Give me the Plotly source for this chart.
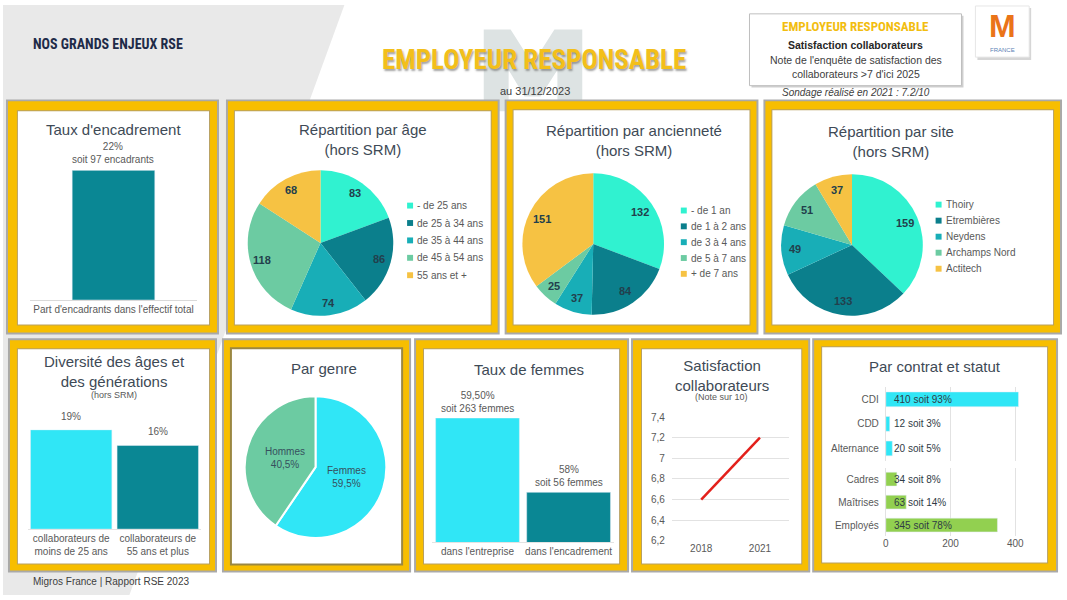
import math
import plotly.graph_objects as go

W, H = 1067, 600
def X(px): return px / W
def Y(py): return 1 - py / H

# ---------------- data ----------------
enc_cat = ["Part d'encadrants dans l'effectif total"]
enc_val = [22]
enc_lbl = ["22%<br>soit 97 encadrants"]

age_labels = ["- de 25 ans", "de 25 à 34 ans", "de 35 à 44 ans", "de 45 à 54 ans", "55 ans et +"]
age_values = [83, 86, 74, 118, 68]

anc_labels = ["- de 1 an", "de 1 à 2 ans", "de 3 à 4 ans", "de 5 à 7 ans", "+ de 7 ans"]
anc_values = [132, 84, 37, 25, 151]

site_labels = ["Thoiry", "Etrembières", "Neydens", "Archamps Nord", "Actitech"]
site_values = [159, 133, 49, 51, 37]

div_cat = ["collaborateurs de<br>moins de 25 ans", "collaborateurs de<br>55 ans et plus"]
div_val = [19, 16]
div_lbl = ["19%", "16%"]

genre_labels = ["Femmes", "Hommes"]
genre_values = [59.5, 40.5]
genre_text = ["Femmes<br>59,5%", "Hommes<br>40,5%"]

fem_cat = ["dans l'entreprise", "dans l'encadrement"]
fem_val = [59.5, 58]
fem_lbl = ["59,50%<br>soit 263 femmes", "58%<br>soit 56 femmes"]

sat_years = ["2018", "2021"]
sat_val = [6.6, 7.2]
sat_ticks = [6.2, 6.4, 6.6, 6.8, 7.0, 7.2, 7.4]
sat_ticktext = ["6,2", "6,4", "6,6", "6,8", "7", "7,2", "7,4"]

contrat_cat = ["CDI", "CDD", "Alternance"]
contrat_val = [410, 12, 20]
contrat_lbl = ["410 soit 93%", "12 soit 3%", "20 soit 5%"]
statut_cat = ["Cadres", "Maîtrises", "Employés"]
statut_val = [34, 63, 345]
statut_lbl = ["34 soit 8%", "63 soit 14%", "345 soit 78%"]
contrat_ticks = [0, 200, 400]

# ---------------- styles ----------------
BODY = "Liberation Sans, Arial, sans-serif"
NARROW = "Roboto Condensed, DejaVu Sans Condensed, Liberation Sans, sans-serif"
TITLE_C = "#3E4A56"
LABEL_C = "#595959"
TEAL = "#0A8794"
CYAN = "#30E6F6"
GREEN = "#92D050"
YELLOW = "#F7BE00"
PIE_COLORS = ["#30F2D0", "#0B7F8C", "#18AEB7", "#6CCBA2", "#F6C243"]

fig = go.Figure()
shapes = []
ann = []

def rect(x0, y0, x1, y1, fill, line=None, lw=0, layer="below"):
    shapes.append(dict(type="rect", xref="paper", yref="paper",
                       x0=X(x0), x1=X(x1), y0=Y(y1), y1=Y(y0),
                       fillcolor=fill, line=dict(color=line or fill, width=lw), layer=layer))

def txt(x, y, s, size=10, color=LABEL_C, family=BODY, xanchor="center", yanchor="middle", **kw):
    ann.append(dict(x=X(x), y=Y(y), xref="paper", yref="paper", text=s, showarrow=False,
                    xanchor=xanchor, yanchor=yanchor,
                    font=dict(size=size, color=color, family=family, **kw)))

# ---------------- background ----------------
shapes.append(dict(type="path", xref="paper", yref="paper",
                   path=f"M 0 1 L {X(343)} 1 L {X(127)} 0 L 0 0 Z",
                   fillcolor="#E9E9E9", line=dict(width=0), layer="below"))
# faint M watermark
mp = [(483, 108), (483, 25), (510, 25), (532, 60), (554, 25), (582, 25), (582, 108),
      (557, 108), (557, 66), (540, 93), (524, 93), (508, 66), (508, 108)]
shapes.append(dict(type="path", xref="paper", yref="paper",
                   path="M " + " L ".join(f"{X(a)} {Y(b)}" for a, b in mp) + " Z",
                   fillcolor="#DDE3E3", line=dict(width=0), layer="below"))

# panels (outer yellow frame, inner white)
panels = [
    (5, 98, 215, 333, 15, 108, 207, 325),
    (226, 98, 497, 333, 233, 108, 490, 325),
    (506, 98, 757, 333, 513, 107, 750, 325),
    (766, 98, 1062, 333, 773, 107, 1055, 325),
    (7, 341, 213, 575, 15, 350, 207, 568),
    (222, 341, 408, 575, 230, 350, 400, 568),
    (415, 341, 627, 575, 423, 350, 619, 568),
    (633, 341, 809, 575, 642, 350, 802, 568),
    (815, 341, 1058, 575, 823, 348, 1049, 567),
]
for i, (a, b, c, d, e, f, g, h) in enumerate(panels):
    rect(a - 2, b - 2, c + 2, d + 2, "#A9A9A9")
    rect(a, b, c, d, YELLOW)
    if i == 5:
        rect(e - 2, f - 2, g + 2, h + 2, "#9A8742")
    else:
        rect(e - 1, f - 1, g + 1, h + 1, "#B8A060")
    rect(e, f, g, h, "#FFFFFF")

# ---------------- header ----------------
txt(28, 40, "<b>NOS GRANDS ENJEUX RSE</b>", size=14, color="#1E2B48", family=NARROW, xanchor="left")
txt(534, 56, "<b>EMPLOYEUR RESPONSABLE</b>", size=27, color="#F3BF1A", family=NARROW,
    shadow="1px 2px 2px rgba(90,90,90,0.55)")
txt(535, 87, "au 31/12/2023", size=11, color="#404040")

rect(752, 11, 965, 84, "#CFCFCF")
rect(750, 9, 963, 82, "#FFFFFF", line="#BFBFBF", lw=1)
txt(857, 22, "<b>EMPLOYEUR RESPONSABLE</b>", size=13, color="#F2BD10", family=NARROW)
txt(857, 41, "<b>Satisfaction collaborateurs</b>", size=10.5, color="#262626")
txt(857, 56, "Note de l'enquête de satisfaction des", size=10.5, color="#404040")
txt(857, 70, "collaborateurs >7 d'ici 2025", size=10.5, color="#404040")
txt(857, 89, "<i>Sondage réalisé en 2021 : 7.2/10</i>", size=10, color="#404040")

# logo
rect(979, 3, 1033, 56, "#D6D6D6")
rect(977, 1, 1031, 53, "#FFFFFF", line="#E6E6E6", lw=1)
txt(1004, 21, "<b>M</b>", size=32, color="#EA7419", family=BODY)
txt(1004, 46, "FRANCE", size=6, color="#5B7FB5")

txt(28, 586, "Migros France | Rapport RSE 2023", size=10, color="#404040", xanchor="left")

# ---------------- panel titles ----------------
txt(111, 127, "Taux d'encadrement", size=15, color=TITLE_C)
txt(362, 137, "Répartition par âge<br>(hors SRM)", size=15, color=TITLE_C)
txt(634, 138, "Répartition par ancienneté<br>(hors SRM)", size=15, color=TITLE_C)
txt(892, 139, "Répartition par site<br>(hors SRM)", size=15, color=TITLE_C)
txt(112, 373, "Diversité des âges et<br>des générations", size=15, color=TITLE_C)
txt(112, 397, "(hors SRM)", size=9, color=LABEL_C)
txt(323, 370, "Par genre", size=15, color=TITLE_C)
txt(528, 371, "Taux de femmes", size=15, color=TITLE_C)
txt(722, 377, "Satisfaction<br>collaborateurs", size=15, color=TITLE_C)
txt(722, 399, "(Note sur 10)", size=9, color=LABEL_C)
txt(936, 368, "Par contrat et statut", size=15, color=TITLE_C)

# ---------------- axes helpers ----------------
def dx(a, b): return [X(a), X(b)]
def dy(top, bottom): return [Y(bottom), Y(top)]

tickf = dict(size=10, color=LABEL_C, family=BODY)
layout_axes = {}

# Panel 1: Taux d'encadrement
fig.add_trace(go.Bar(x=enc_cat, y=enc_val, marker_color=TEAL, width=0.494,
                     xaxis="x", yaxis="y", hoverinfo="skip"))
layout_axes["xaxis"] = dict(domain=dx(27, 195), anchor="y", range=[-0.5, 0.5], showgrid=False,
                            showline=True, linecolor="#D9D9D9", ticks="", tickfont=tickf)
layout_axes["yaxis"] = dict(domain=dy(168, 300), anchor="x", range=[0, 22], visible=False)
for c, v, s in zip(enc_cat, enc_val, enc_lbl):
    ann.append(dict(x=c, y=v, xref="x", yref="y", text=s, showarrow=False, yanchor="bottom",
                    yshift=3, font=dict(size=10, color=LABEL_C, family=BODY)))

# Panel 5: Diversité des âges
fig.add_trace(go.Bar(x=div_cat, y=div_val, marker_color=[CYAN, TEAL], width=0.94,
                     xaxis="x2", yaxis="y2", hoverinfo="skip"))
layout_axes["xaxis2"] = dict(domain=dx(25, 199), anchor="y2", range=[-0.5, 1.5], showgrid=False,
                             showline=True, linecolor="#E3E3E3", ticks="", tickfont=tickf)
layout_axes["yaxis2"] = dict(domain=dy(432, 533), anchor="x2", range=[0, 19], visible=False)
for c, v, s in zip(div_cat, div_val, div_lbl):
    ann.append(dict(x=c, y=v, xref="x2", yref="y2", text=s, showarrow=False, yanchor="bottom",
                    yshift=6, font=dict(size=10, color=LABEL_C, family=BODY)))

# Panel 7: Taux de femmes
fig.add_trace(go.Bar(x=fem_cat, y=fem_val, marker_color=[CYAN, TEAL], width=0.92,
                     xaxis="x3", yaxis="y3", hoverinfo="skip"))
layout_axes["xaxis3"] = dict(domain=dx(431, 614), anchor="y3", range=[-0.5, 1.5], showgrid=False,
                             showline=True, linecolor="#E3E3E3", ticks="", tickfont=tickf)
layout_axes["yaxis3"] = dict(domain=dy(420, 546), anchor="x3", range=[57, 59.5], visible=False)
for c, v, s in zip(fem_cat, fem_val, fem_lbl):
    ann.append(dict(x=c, y=v, xref="x3", yref="y3", text=s, showarrow=False, yanchor="bottom",
                    yshift=2, font=dict(size=10, color=LABEL_C, family=BODY)))

# Panel 8: Satisfaction line
fig.add_trace(go.Scatter(x=sat_years, y=sat_val, mode="lines", line=dict(color="#E3201B", width=2.5),
                         xaxis="x4", yaxis="y4", hoverinfo="skip"))
layout_axes["xaxis4"] = dict(domain=dx(672, 790), anchor="y4", type="category", range=[-0.5, 1.5],
                             showgrid=False, showline=False, ticks="", tickfont=tickf)
layout_axes["yaxis4"] = dict(domain=dy(419, 545), anchor="x4", range=[6.2, 7.4], tickvals=sat_ticks,
                             ticktext=sat_ticktext, showgrid=True, gridcolor="#E2E2E2", zeroline=False,
                             showline=False, ticks="", tickfont=tickf, ticklabelstandoff=6)

# Panel 9: Par contrat et statut
fig.add_trace(go.Bar(y=contrat_cat, x=contrat_val, orientation="h", marker_color=CYAN, width=0.6,
                     xaxis="x5", yaxis="y5", hoverinfo="skip"))
fig.add_trace(go.Bar(y=statut_cat, x=statut_val, orientation="h", marker_color=GREEN, width=0.6,
                     xaxis="x6", yaxis="y6", hoverinfo="skip"))
cx0, cx400 = 887, 1017
cx_right = cx0 + (cx400 - cx0) * 420 / 400
common_x = dict(range=[0, 420], tickvals=contrat_ticks, showgrid=True, gridcolor="#E2E2E2",
                zeroline=True, zerolinecolor="#E2E2E2", zerolinewidth=1, showline=False, ticks="",
                tickfont=tickf)
layout_axes["xaxis5"] = dict(domain=dx(cx0, cx_right), anchor="y5", showticklabels=False, **common_x)
layout_axes["yaxis5"] = dict(domain=dy(388.5, 463.5), anchor="x5", range=[2.5, -0.5], showgrid=False,
                             ticks="", tickfont=tickf, ticklabelstandoff=6)
layout_axes["xaxis6"] = dict(domain=dx(cx0, cx_right), anchor="y6", **common_x)
layout_axes["yaxis6"] = dict(domain=dy(470.5, 540.5), anchor="x6", range=[2.5, -0.5], showgrid=False,
                             ticks="", tickfont=tickf, ticklabelstandoff=6)
for cats, lbls, xr, yr in [(contrat_cat, contrat_lbl, "x5", "y5"), (statut_cat, statut_lbl, "x6", "y6")]:
    for c, s in zip(cats, lbls):
        ann.append(dict(x=0, y=c, xref=xr, yref=yr, text=s, showarrow=False, xanchor="left",
                        xshift=6, font=dict(size=10, color="#2F3B45", family=BODY)))

# ---------------- pies ----------------
def add_pie(labels, values, colors, cx, cy, r, k, texts=None, lw=0, lsize=11, lcolor="#22404C", bold=True):
    fig.add_trace(go.Pie(labels=labels, values=values, sort=False, direction="clockwise", rotation=0,
                         marker=dict(colors=colors, line=dict(color="#FFFFFF", width=lw)),
                         textinfo="none", hoverinfo="skip", showlegend=False,
                         domain=dict(x=dx(cx - r, cx + r), y=dy(cy - r, cy + r))))
    total = sum(values)
    cum = 0
    for i, v in enumerate(values):
        th = 2 * math.pi * (cum + v / 2) / total
        px = cx + k * r * math.sin(th)
        py = cy - k * r * math.cos(th)
        s = texts[i] if texts else str(v)
        if bold:
            s = f"<b>{s}</b>"
        txt(px, py, s, size=lsize, color=lcolor)
        cum += v

def add_legend(labels, colors, sx, y0, step):
    for i, (l, c) in enumerate(zip(labels, colors)):
        y = y0 + i * step
        shapes.append(dict(type="rect", xref="paper", yref="paper", x0=X(sx), x1=X(sx + 6),
                           y0=Y(y + 3), y1=Y(y - 3), fillcolor=c, line=dict(width=0), layer="above"))
        txt(sx + 8, y, l, size=10, color=LABEL_C, xanchor="left")

add_pie(age_labels, age_values, PIE_COLORS, 319, 242, 74, 0.83)
add_legend(age_labels, PIE_COLORS, 406, 204, 17.7)
add_pie(anc_labels, anc_values, PIE_COLORS, 593, 243, 72, 0.8)
add_legend(anc_labels, PIE_COLORS, 681, 209, 16.1)
add_pie(site_labels, site_values, PIE_COLORS, 853, 244, 72, 0.8)
add_legend(site_labels, PIE_COLORS, 937, 203, 16.3)
add_pie(genre_labels, genre_values, [CYAN, "#6CCBA2"], 314, 470, 72, 0.45, texts=genre_text,
        lw=2, lsize=10, lcolor="#36505E", bold=False)

fig.update_layout(
    width=W, height=600, margin=dict(l=0, r=0, t=0, b=0),
    paper_bgcolor="#FFFFFF", plot_bgcolor="rgba(0,0,0,0)",
    showlegend=False, shapes=shapes, annotations=ann,
    font=dict(family=BODY, color=LABEL_C),
    **layout_axes,
)

fig.write_html("out.html", config={"displayModeBar": False, "staticPlot": True},
               post_script="document.body.style.margin='0';document.body.style.overflow='hidden';")
